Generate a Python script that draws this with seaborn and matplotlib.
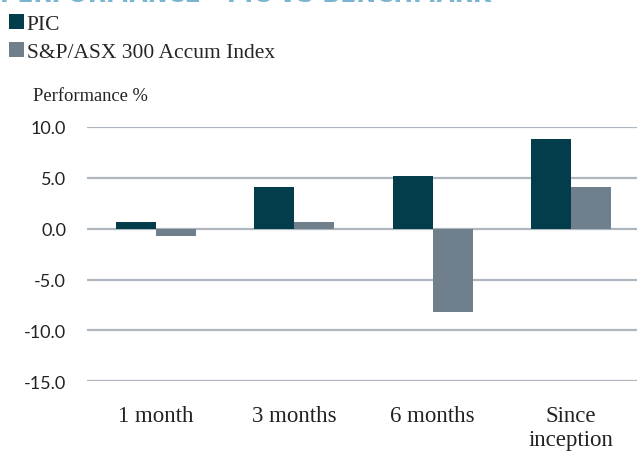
import pandas as pd
import matplotlib.pyplot as plt
import seaborn as sns
from matplotlib.patches import Patch

# Performance figures
periods = ['1 month', '3 months', '6 months', 'Since\ninception']
pic = [0.7, 4.1, 5.2, 8.8]
benchmark = [-0.7, 0.7, -8.2, 4.1]
series_names = ['PIC', 'S&P/ASX 300 Accum Index']
yticks = [10.0, 5.0, 0.0, -5.0, -10.0, -15.0]

data = pd.DataFrame({
    'period': periods * 2,
    'value': pic + benchmark,
    'series': [series_names[0]] * 4 + [series_names[1]] * 4,
})

colors = ['#033d4b', '#6f808c']

sns.set_theme(style='white')
fig = plt.figure(figsize=(6.37, 4.52), dpi=100)
ax = fig.add_axes([87 / 637, 69.7 / 452, 553 / 637, 254.3 / 452])

sns.barplot(data=data, x='period', y='value', hue='series', order=periods,
            hue_order=series_names, palette=colors, width=0.58,
            saturation=1, edgecolor='none', legend=False, ax=ax, zorder=3)

ax.set_ylim(-15, 10)
ax.set_xlim(-0.5, 3.5)
ax.set_yticks(yticks)
ax.set_yticklabels([f'{v:.1f}' for v in yticks], family='Lato', fontsize=13,
                   color='#222222')
ax.set_xticks(range(len(periods)))
ax.set_xticklabels(periods, family='Liberation Serif', fontsize=16.5,
                   color='#222222', linespacing=1.2)
ax.tick_params(axis='both', length=0)
ax.tick_params(axis='y', pad=15)
ax.tick_params(axis='x', pad=17)
ax.yaxis.grid(True, color='#aeb6bf', linewidth=1.6, zorder=0)
ax.set_axisbelow(True)
sns.despine(ax=ax, left=True, bottom=True, top=True, right=True)
ax.set_xlabel('')
ax.set_ylabel('')

# cut-off heading at the top
fig.text(0.0, 1 - 2 / 452, 'PERFORMANCE - PIC VS BENCHMARK', family='DejaVu Sans',
         fontsize=17, fontweight='bold', color='#7ab4d0', va='baseline', ha='left')

fig.text(33 / 637, 1 - 97 / 452, 'Performance %', family='Liberation Serif',
         fontsize=13.3, color='#222222', va='center', ha='left')

handles = [Patch(facecolor=c, edgecolor='none') for c in colors]
fig.legend(handles, series_names, loc='upper left', bbox_to_anchor=(0.0, 1 - 6 / 452),
           frameon=False, prop={'family': 'Liberation Serif', 'size': 15.5},
           handlelength=0.7, handleheight=0.7, handletextpad=0.15,
           labelspacing=0.4, borderpad=0.1, borderaxespad=0.3)

fig.savefig('out.png', dpi=100)
